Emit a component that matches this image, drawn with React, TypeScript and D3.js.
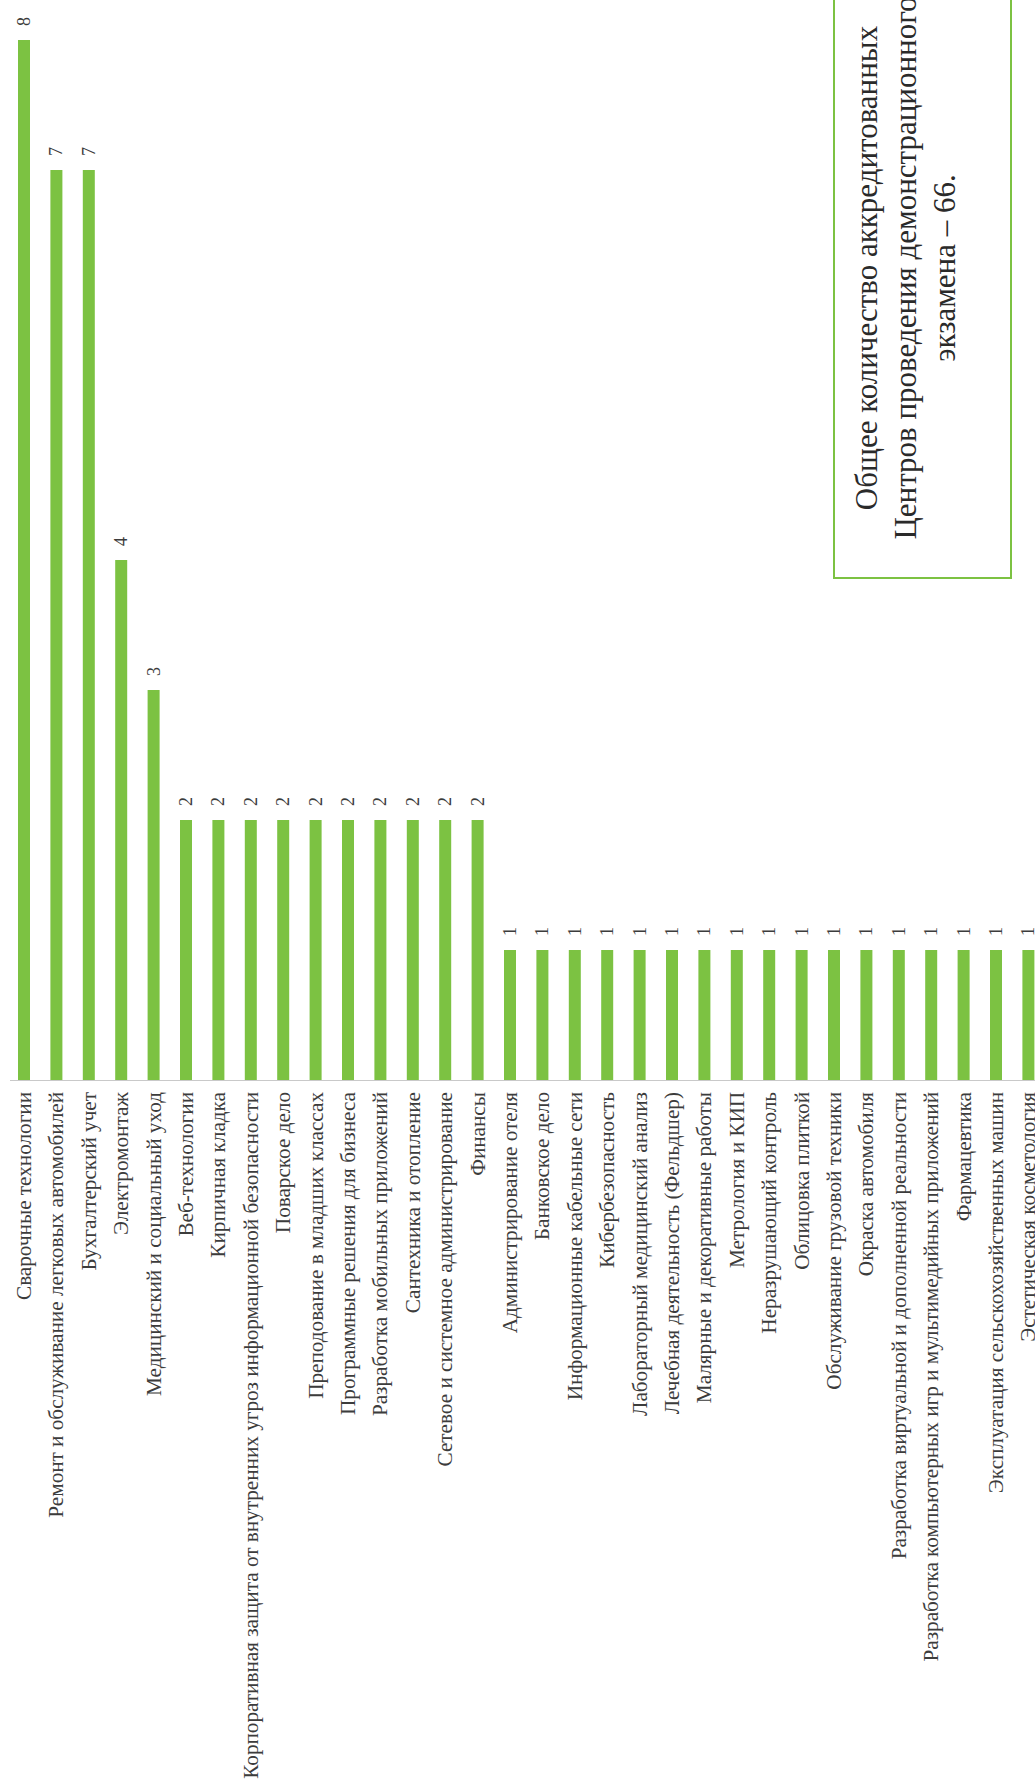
import * as d3 from 'd3'

const WIDTH = 1035
const HEIGHT = 1784

// categories in the order they appear on the page
const categories: string[] = [
  'Сварочные технологии',
  'Ремонт и обслуживание легковых автомобилей',
  'Бухгалтерский учет',
  'Электромонтаж',
  'Медицинский и социальный уход',
  'Веб-технологии',
  'Кирпичная кладка',
  'Корпоративная защита от внутренних угроз информационной безопасности',
  'Поварское дело',
  'Преподование в младших классах',
  'Программные решения для бизнеса',
  'Разработка мобильных приложений',
  'Сантехника и отопление',
  'Сетевое и системное администрирование',
  'Финансы',
  'Администрирование отеля',
  'Банковское дело',
  'Информационные кабельные сети',
  'Кибербезопасность',
  'Лабораторный медицинский анализ',
  'Лечебная деятельность (Фельдшер)',
  'Малярные и декоративные работы',
  'Метрология и КИП',
  'Неразрушающий контроль',
  'Облицовка плиткой',
  'Обслуживание грузовой техники',
  'Окраска автомобиля',
  'Разработка виртуальной и дополненной реальности',
  'Разработка компьютерных игр и мультимедийных приложений',
  'Фармацевтика',
  'Эксплуатация сельскохозяйственных машин',
  'Эстетическая косметология',
]

const values: number[] = [
  8, 7, 7, 4, 3,
  2, 2, 2, 2, 2, 2, 2, 2, 2, 2,
  1, 1, 1, 1, 1, 1, 1, 1, 1, 1, 1, 1, 1, 1, 1, 1, 1,
]

const noteLines: string[] = [
  'Общее количество аккредитованных',
  'Центров проведения демонстрационного',
  'экзамена – 66.',
]

const GREEN = '#7cc242'
const TEXT = '#3c3c3c'
const FONT = "'Liberation Serif', 'Times New Roman', Tinos, serif"

export default function App() {
  const x = d3.scalePoint<string>()
    .domain(categories)
    .range([24, 24 + 32.4 * (categories.length - 1)])
  const y = d3.scaleLinear().domain([0, 8]).range([1080, 40])
  const barW = 12

  return (
    <svg
      width={WIDTH}
      height={HEIGHT}
      style={{ position: 'absolute', left: 0, top: 0, background: '#fff' }}
    >
      {/* axis baseline */}
      <line x1={10} x2={WIDTH} y1={y(0) + 0.5} y2={y(0) + 0.5} stroke="#c9c9c9" strokeWidth={1} />

      {categories.map((c, i) => {
        const cx = x(c) as number
        const v = values[i]
        return (
          <g key={c}>
            <rect x={cx - barW / 2} y={y(v)} width={barW} height={y(0) - y(v)} fill={GREEN} />
            <text
              transform={`translate(${cx},${y(v) - 14}) rotate(-90)`}
              textAnchor="start"
              dominantBaseline="central"
              fontFamily={FONT}
              fontSize={18}
              fill={TEXT}
            >
              {v}
            </text>
            <text
              transform={`translate(${cx},${y(0) + 12}) rotate(-90)`}
              textAnchor="end"
              dominantBaseline="central"
              fontFamily={FONT}
              fontSize={21.2}
              fill={TEXT}
            >
              {c}
            </text>
          </g>
        )
      })}

      {/* note box */}
      <rect x={834} y={-44} width={177} height={622} fill="none" stroke={GREEN} strokeWidth={2} />
      <g transform="translate(916,268) rotate(-90)">
        {noteLines.map((t, i) => (
          <text
            key={t}
            x={0}
            y={(i - 1) * 39}
            textAnchor="middle"
            fontFamily={FONT}
            fontSize={31}
            fill="#2a2a2a"
          >
            {t}
          </text>
        ))}
      </g>
    </svg>
  )
}
